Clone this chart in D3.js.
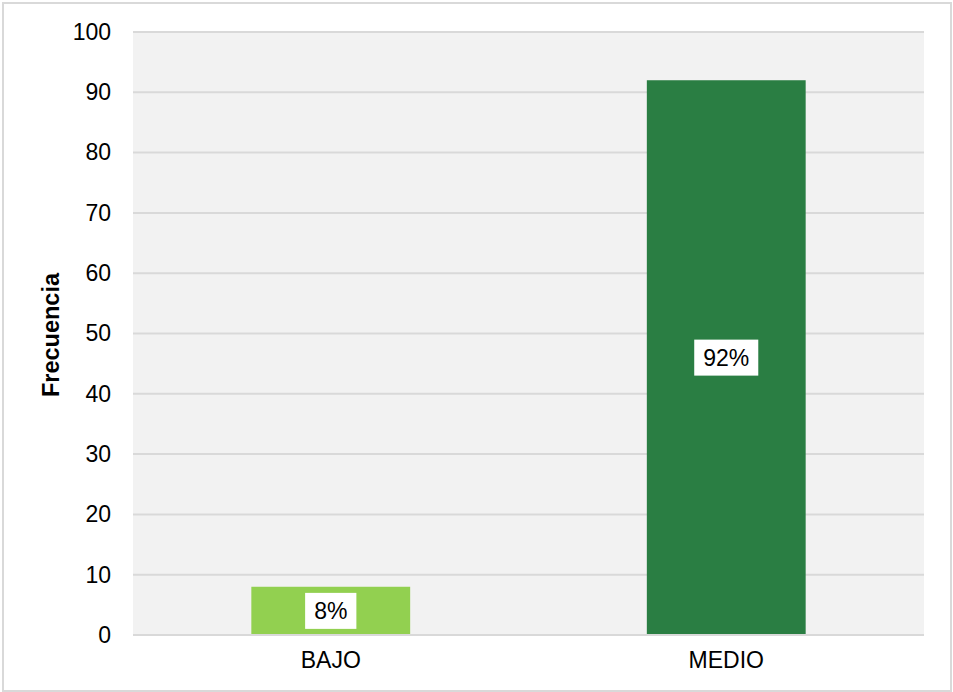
<!DOCTYPE html>
<html>
<head>
<meta charset="utf-8">
<script src="https://cdn.jsdelivr.net/npm/d3@7"></script>
<style>
  html, body { margin: 0; padding: 0; background: #ffffff; }
  svg { display: block; font-family: "Liberation Sans", Arial, sans-serif; }
</style>
</head>
<body>
<svg id="chart" width="953" height="692"></svg>
<script>
// Frequency by level
const categories = ["BAJO", "MEDIO"];
const values = [8, 92];
const percentLabels = ["8%", "92%"];
const barColors = ["#92d050", "#2a7e43"];
const yTicks = [0, 10, 20, 30, 40, 50, 60, 70, 80, 90, 100];
const yTitle = "Frecuencia";

const W = 953, H = 692;
const plot = { left: 133, right: 924, top: 32, bottom: 635 };

const svg = d3.select("#chart");

// outer frame
svg.append("rect")
  .attr("x", 3).attr("y", 3)
  .attr("width", W - 5).attr("height", H - 4)
  .attr("fill", "#ffffff")
  .attr("stroke", "#d9d9d9").attr("stroke-width", 2);

// plot background
svg.append("rect")
  .attr("x", plot.left).attr("y", plot.top)
  .attr("width", plot.right - plot.left).attr("height", plot.bottom - plot.top)
  .attr("fill", "#f2f2f2");

const x = d3.scaleBand()
  .domain(categories)
  .range([plot.left, plot.right])
  .paddingInner(1.49 / 2.49)
  .paddingOuter(1.49 / 2.49 / 2);

const y = d3.scaleLinear().domain([0, 100]).range([plot.bottom, plot.top]);

// gridlines
svg.append("g")
  .selectAll("line")
  .data(yTicks.filter(d => d > 0))
  .join("line")
  .attr("x1", plot.left).attr("x2", plot.right)
  .attr("y1", d => y(d)).attr("y2", d => y(d))
  .attr("stroke", "#d9d9d9").attr("stroke-width", 2);

// y axis labels
const yAxis = d3.axisLeft(y).tickValues(yTicks).tickSize(0).tickPadding(22);
const gy = svg.append("g").attr("transform", `translate(${plot.left},0)`).call(yAxis);
gy.select(".domain").remove();
gy.selectAll("text")
  .attr("font-family", "Liberation Sans, Arial, sans-serif")
  .attr("font-size", 23).attr("fill", "#000");

// bars
svg.append("g")
  .selectAll("rect")
  .data(categories)
  .join("rect")
  .attr("x", d => x(d))
  .attr("width", x.bandwidth())
  .attr("y", (d, i) => y(values[i]))
  .attr("height", (d, i) => y(0) - y(values[i]))
  .attr("fill", (d, i) => barColors[i]);

// baseline
svg.append("line")
  .attr("x1", plot.left).attr("x2", plot.right)
  .attr("y1", y(0)).attr("y2", y(0))
  .attr("stroke", "#d9d9d9").attr("stroke-width", 2);

// x axis labels
const xAxis = d3.axisBottom(x).tickSize(0).tickPadding(17);
const gx = svg.append("g").attr("transform", `translate(0,${plot.bottom})`).call(xAxis);
gx.select(".domain").remove();
gx.selectAll("text")
  .attr("font-family", "Liberation Sans, Arial, sans-serif")
  .attr("font-size", 23).attr("fill", "#000");

// value labels with white boxes
const labels = svg.append("g")
  .selectAll("g")
  .data(categories)
  .join("g")
  .attr("transform", (d, i) => `translate(${x(d) + x.bandwidth() / 2},${(y(values[i]) + y(0)) / 2})`);

labels.append("text")
  .attr("text-anchor", "middle")
  .attr("dy", "0.35em")
  .attr("font-size", 23)
  .attr("fill", "#000")
  .text((d, i) => percentLabels[i]);

labels.each(function () {
  const g = d3.select(this);
  const bb = g.select("text").node().getBBox();
  g.insert("rect", "text")
    .attr("x", bb.x - 9).attr("y", -18)
    .attr("width", bb.width + 18).attr("height", 36)
    .attr("fill", "#ffffff");
});

// y axis title
svg.append("text")
  .attr("transform", `translate(51,335) rotate(-90)`)
  .attr("text-anchor", "middle")
  .attr("dy", "0.35em")
  .attr("font-size", 23.5)
  .attr("font-weight", "bold")
  .attr("fill", "#000")
  .text(yTitle);
</script>
</body>
</html>
